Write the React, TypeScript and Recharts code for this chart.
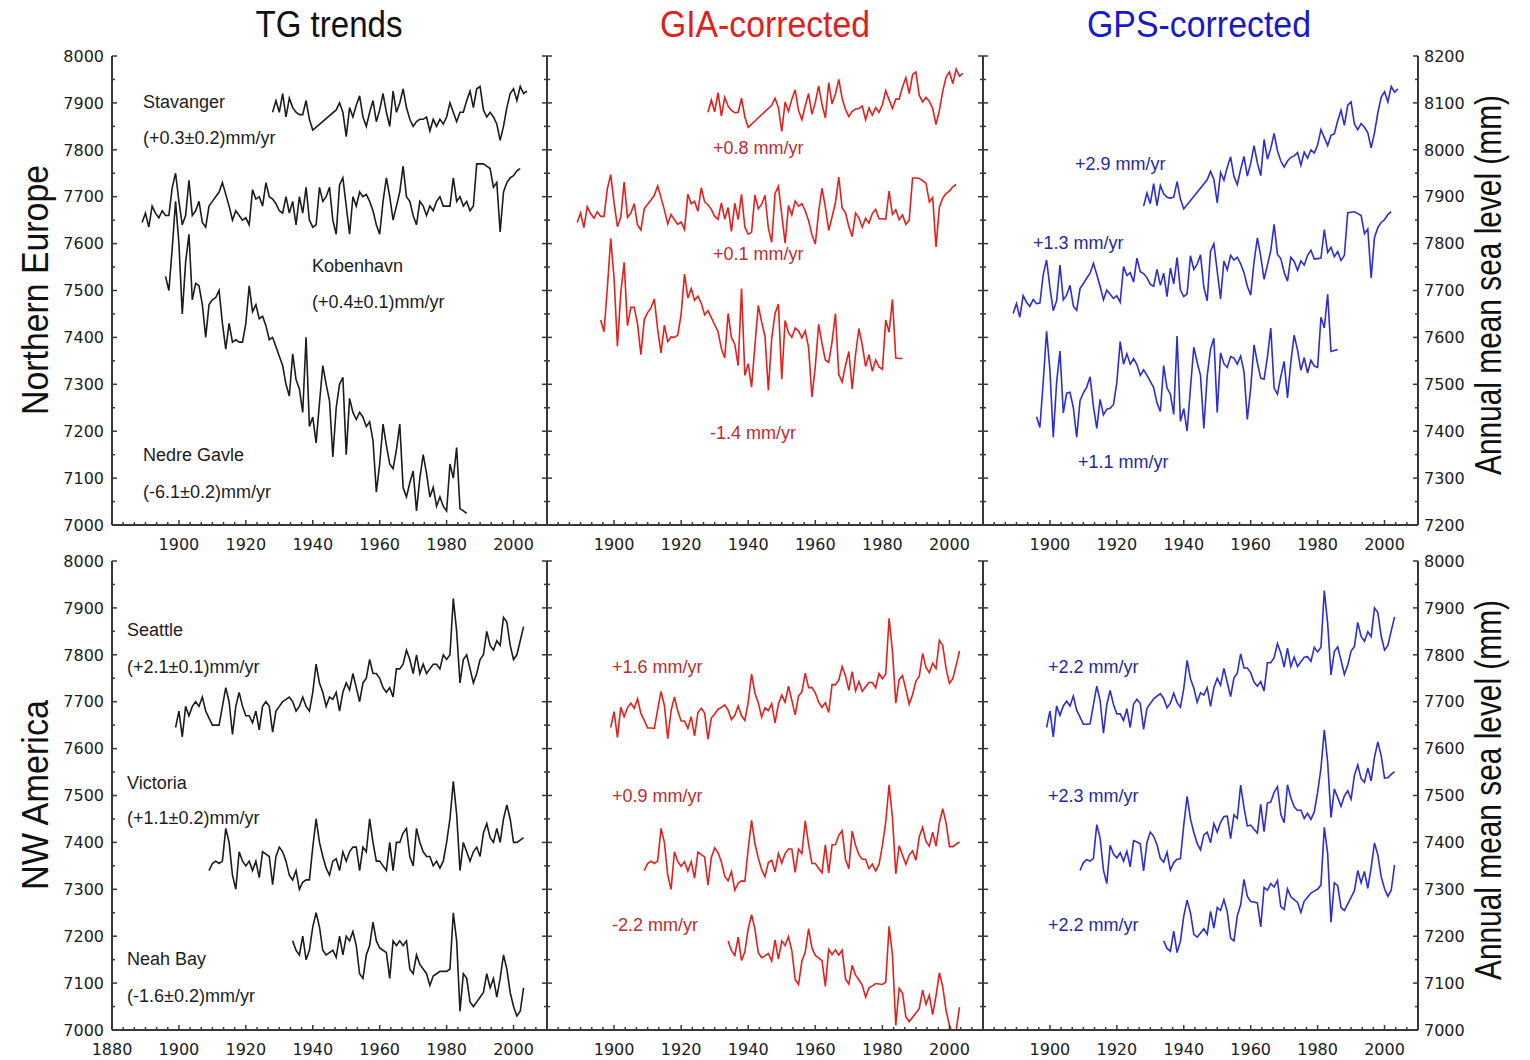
import React from 'react';
import { LineChart, Line, XAxis, YAxis } from 'recharts';

// ---- axis ticks ----
const YEAR_LABELS = [1880, 1900, 1920, 1940, 1960, 1980, 2000];
const LEVEL_TICKS = [7000, 7050, 7100, 7150, 7200, 7250, 7300, 7350, 7400, 7450, 7500, 7550, 7600, 7650, 7700, 7750, 7800, 7850, 7900, 7950, 8000];
const LEVEL_TICKS_HIGH = [7200, 7250, 7300, 7350, 7400, 7450, 7500, 7550, 7600, 7650, 7700, 7750, 7800, 7850, 7900, 7950, 8000, 8050, 8100, 8150, 8200];

// ---- Northern Europe (annual mean sea level, mm) ----
const STAVANGER_START = 1928;
const STAVANGER_TG = [7880, 7905, 7880, 7920, 7870, 7910, 7890, 7880, 7875, 7875, 7905, 7865, 7842, null, null, null, null, null, null, 7885, 7900, 7880, 7828, 7890, 7870, 7895, 7915, 7870, 7850, 7880, 7905, 7860, 7885, 7920, 7880, 7850, 7925, 7880, 7900, 7930, 7890, 7865, 7850, 7860, 7865, 7865, 7870, 7840, 7865, 7850, 7865, 7855, 7870, 7900, 7880, 7860, 7880, 7880, 7905, 7925, 7890, 7930, 7935, 7885, 7870, 7880, 7870, 7855, 7820, 7850, 7890, 7920, 7930, 7905, 7935, 7920, 7925];
const STAVANGER_GIA = [7880, 7906, 7881, 7922, 7872, 7912, 7893, 7884, 7879, 7880, 7910, 7870, 7848, null, null, null, null, null, null, 7895, 7910, 7890, 7839, 7902, 7882, 7908, 7928, 7884, 7864, 7894, 7920, 7876, 7901, 7936, 7897, 7868, 7943, 7898, 7919, 7950, 7910, 7886, 7871, 7882, 7887, 7888, 7893, 7864, 7889, 7874, 7890, 7880, 7896, 7926, 7907, 7888, 7908, 7908, 7934, 7954, 7920, 7960, 7966, 7916, 7902, 7912, 7903, 7888, 7854, 7884, 7925, 7955, 7966, 7941, 7972, 7957, 7963];
const STAVANGER_GPS = [7880, 7908, 7885, 7928, 7881, 7924, 7906, 7899, 7897, 7899, 7932, 7895, 7874, null, null, null, null, null, null, 7936, 7954, 7937, 7887, 7952, 7935, 7963, 7985, 7943, 7926, 7958, 7986, 7944, 7971, 8009, 7972, 7945, 8022, 7980, 8003, 8035, 7998, 7976, 7963, 7976, 7984, 7987, 7994, 7967, 7995, 7982, 8000, 7993, 8010, 8043, 8026, 8009, 8031, 8034, 8062, 8084, 8052, 8095, 8102, 8055, 8043, 8056, 8048, 8036, 8004, 8036, 8079, 8112, 8124, 8102, 8135, 8123, 8130];

const KOBENHAVN_START = 1889;
const KOBENHAVN_TG = [
  7645, 7665, 7635, 7680, 7665, 7655, 7670, 7660, 7660, 7720,
  7750, 7690, 7640, 7660, 7735, 7660, 7670, 7690, 7645, 7635,
  7680, 7690, 7700, 7710, 7730, 7705, 7680, 7650, 7670, 7660,
  7650, 7655, 7640, 7715, 7695, 7700, 7680, 7730, 7700, 7695,
  7685, 7670, 7665, 7700, 7665, 7690, 7640, 7700, 7665, 7720,
  7650, 7635, 7640, 7720, 7690, 7700, 7720, 7650, 7620, 7725,
  7740, 7680, 7620, 7700, 7680, 7710, 7700, 7705, 7690, 7670,
  7640, 7620, 7690, 7740, 7700, 7650, 7680, 7710, 7765, 7700,
  7690, 7660, 7640, 7690, 7680, 7660, 7680, 7670, 7690, 7700,
  7680, 7680, 7680, 7740, 7690, 7700, 7680, 7690, 7670, 7680,
  7770, 7770, 7770, 7765, 7760, 7720, 7730, 7625, 7710, 7730,
  7740, 7745, 7755, 7760,
];
const KOBENHAVN_GIA = [
  7645, 7665, 7634, 7679, 7664, 7654, 7668, 7658, 7658, 7717,
  7747, 7687, 7636, 7656, 7731, 7656, 7665, 7685, 7640, 7629,
  7674, 7684, 7693, 7703, 7723, 7698, 7672, 7642, 7662, 7651,
  7641, 7646, 7630, 7705, 7685, 7690, 7669, 7719, 7689, 7683,
  7673, 7658, 7652, 7687, 7652, 7677, 7626, 7686, 7651, 7705,
  7635, 7620, 7624, 7704, 7674, 7684, 7703, 7633, 7603, 7707,
  7722, 7662, 7601, 7681, 7661, 7691, 7680, 7685, 7670, 7649,
  7619, 7599, 7668, 7718, 7678, 7628, 7657, 7687, 7742, 7676,
  7666, 7636, 7615, 7665, 7655, 7635, 7654, 7644, 7664, 7673,
  7653, 7653, 7652, 7712, 7662, 7672, 7651, 7661, 7641, 7650,
  7740, 7740, 7739, 7734, 7729, 7689, 7698, 7593, 7678, 7697,
  7707, 7712, 7721, 7726,
];
const KOBENHAVN_GPS = [
  7651, 7672, 7643, 7689, 7675, 7666, 7681, 7672, 7673, 7734,
  7765, 7706, 7657, 7678, 7754, 7680, 7690, 7711, 7667, 7658,
  7704, 7715, 7726, 7737, 7758, 7734, 7709, 7680, 7701, 7692,
  7683, 7689, 7675, 7751, 7732, 7738, 7718, 7769, 7740, 7736,
  7727, 7713, 7709, 7745, 7711, 7737, 7687, 7748, 7714, 7770,
  7701, 7687, 7693, 7774, 7745, 7756, 7776, 7707, 7678, 7784,
  7800, 7741, 7682, 7763, 7744, 7775, 7765, 7771, 7757, 7738,
  7709, 7690, 7761, 7812, 7773, 7724, 7754, 7785, 7841, 7777,
  7768, 7739, 7720, 7771, 7762, 7743, 7763, 7754, 7775, 7786,
  7767, 7768, 7769, 7830, 7781, 7792, 7772, 7783, 7764, 7775,
  7866, 7867, 7868, 7864, 7860, 7821, 7831, 7727, 7813, 7834,
  7845, 7851, 7862, 7868,
];

const NEDRE_GAVLE_START = 1896;
const NEDRE_GAVLE_TG = [
  7530, 7500, 7590, 7690, 7600, 7450, 7560, 7620, 7480, 7515,
  7510, 7470, 7400, 7470, 7480, 7485, 7500, 7430, 7375, 7430,
  7390, 7395, 7390, 7390, 7430, 7510, 7455, 7470, 7440, 7445,
  7425, 7395, 7400, 7380, 7360, 7340, 7300, 7275, 7365, 7310,
  7290, 7240, 7400, 7210, 7230, 7175, 7260, 7340, 7300, 7265,
  7145, 7250, 7300, 7315, 7150, 7270, 7240, 7225, 7240, 7230,
  7210, 7220, 7180, 7070, 7130, 7215, 7170, 7130, 7120, 7160,
  7215, 7080, 7060, 7090, 7115, 7030, 7100, 7150, 7110, 7060,
  7080, 7040, 7060, 7040, 7030, 7130, 7100, 7165, 7035, 7030,
  7025,
];
const NEDRE_GAVLE_GIA = [
  7437, 7412, 7506, 7611, 7526, 7381, 7495, 7560, 7425, 7464,
  7464, 7429, 7363, 7438, 7453, 7463, 7482, 7417, 7367, 7426,
  7391, 7401, 7400, 7405, 7450, 7535, 7484, 7504, 7479, 7488,
  7473, 7448, 7457, 7442, 7427, 7412, 7376, 7356, 7451, 7400,
  7385, 7340, 7504, 7319, 7344, 7294, 7383, 7468, 7433, 7402,
  7287, 7397, 7451, 7471, 7311, 7436, 7410, 7400, 7420, 7414,
  7399, 7414, 7378, 7273, 7338, 7428, 7387, 7352, 7347, 7391,
  7451, 7321, 7305, 7340, 7370, 7290, 7364, 7419, 7384, 7338,
  7363, 7328, 7352, 7337, 7332, 7437, 7411, 7481, 7356, 7355,
  7355,
];
const NEDRE_GAVLE_GPS = [
  7431, 7408, 7505, 7613, 7530, 7387, 7504, 7571, 7439, 7481,
  7483, 7450, 7387, 7465, 7482, 7494, 7516, 7453, 7406, 7468,
  7435, 7447, 7449, 7457, 7504, 7591, 7543, 7565, 7543, 7555,
  7542, 7519, 7531, 7519, 7506, 7493, 7460, 7442, 7540, 7492,
  7479, 7436, 7603, 7421, 7448, 7400, 7492, 7579, 7547, 7519,
  7406, 7518, 7575, 7598, 7440, 7567, 7544, 7536, 7559, 7556,
  7543, 7560, 7527, 7425, 7492, 7584, 7546, 7513, 7511, 7558,
  7620, 7492, 7479, 7517, 7549, 7471, 7548, 7605, 7573, 7530,
  7557, 7524, 7551, 7539, 7536, 7643, 7620, 7692, 7570, 7572,
  7574,
];

// ---- NW America (annual mean sea level, mm) ----
const SEATTLE_START = 1899;
const SEATTLE_TG = [
  7645, 7680, 7625, 7690, 7670, 7690, 7700, 7690, 7710, 7680,
  7665, 7650, 7650, 7650, 7690, 7730, 7700, 7630, 7690, 7720,
  7690, 7670, 7670, 7655, 7680, 7640, 7690, 7700, 7690, 7635,
  7680, 7690, 7700, 7705, 7710, 7700, 7680, 7690, 7710, 7690,
  7680, 7720, 7780, 7740, 7720, 7690, 7710, 7705, 7720, 7680,
  7720, 7740, 7725, 7760, 7730, 7700, 7740, 7750, 7790, 7760,
  7760, 7750, 7730, 7720, 7730, 7710, 7770, 7770, 7780, 7810,
  7790, 7760, 7800, 7760, 7780, 7760, 7770, 7780, 7780, 7770,
  7800, 7790, 7800, 7920, 7850, 7740, 7790, 7800, 7770, 7740,
  7760, 7790, 7800, 7850, 7820, 7810, 7830, 7820, 7880, 7870,
  7820, 7790, 7800, 7830, 7860,
];
const SEATTLE_GIA = [
  7645, 7679, 7624, 7688, 7668, 7687, 7697, 7686, 7706, 7675,
  7660, 7644, 7644, 7643, 7683, 7722, 7692, 7621, 7681, 7710,
  7680, 7659, 7659, 7643, 7668, 7627, 7677, 7686, 7676, 7620,
  7665, 7674, 7684, 7688, 7693, 7682, 7662, 7671, 7691, 7670,
  7660, 7699, 7759, 7718, 7698, 7667, 7687, 7681, 7696, 7655,
  7695, 7714, 7699, 7733, 7703, 7672, 7712, 7721, 7761, 7730,
  7730, 7719, 7699, 7688, 7698, 7677, 7737, 7736, 7746, 7775,
  7755, 7724, 7764, 7723, 7743, 7722, 7732, 7741, 7741, 7730,
  7760, 7749, 7759, 7878, 7808, 7697, 7747, 7756, 7726, 7695,
  7715, 7744, 7754, 7803, 7773, 7762, 7782, 7771, 7831, 7820,
  7770, 7739, 7749, 7778, 7808,
];
const SEATTLE_GPS = [
  7645, 7680, 7625, 7691, 7671, 7691, 7701, 7691, 7712, 7682,
  7667, 7652, 7652, 7653, 7693, 7733, 7703, 7633, 7694, 7724,
  7694, 7674, 7674, 7660, 7685, 7645, 7695, 7705, 7696, 7641,
  7686, 7696, 7706, 7712, 7717, 7707, 7687, 7697, 7718, 7698,
  7688, 7728, 7788, 7749, 7729, 7699, 7719, 7714, 7730, 7690,
  7730, 7750, 7735, 7771, 7741, 7711, 7751, 7761, 7802, 7772,
  7772, 7762, 7742, 7733, 7743, 7723, 7783, 7783, 7794, 7824,
  7804, 7774, 7814, 7775, 7795, 7775, 7785, 7795, 7796, 7786,
  7816, 7806, 7816, 7937, 7867, 7757, 7807, 7817, 7788, 7758,
  7778, 7808, 7818, 7869, 7839, 7829, 7849, 7839, 7900, 7890,
  7840, 7810, 7820, 7851, 7881,
];

const VICTORIA_START = 1909;
const VICTORIA_TG = [
  7340, 7355, 7360, 7355, 7360, 7430, 7400, 7330, 7300, 7380,
  7360, 7350, 7360, 7340, 7360, 7325, 7380, 7375, 7370, 7310,
  7370, 7390, 7380, 7360, 7330, 7320, 7340, 7300, 7315, 7320,
  7320, 7390, 7450, 7400, 7370, 7345, 7330, 7360, 7365, 7340,
  7380, 7360, 7380, 7390, 7390, 7340, 7390, 7380, 7450, 7400,
  7360, 7360, 7350, 7340, 7400, 7340, 7400, 7400, 7420, 7430,
  7370, 7350, 7430, 7400, 7380, 7370, 7370, 7350, 7360, 7345,
  7360, 7400, 7450, 7530, 7460, 7340, 7400, 7380, 7360, 7380,
  7390, 7370, 7420, 7440, 7410, 7400, 7430, 7400, 7450, 7480,
  7450, 7400, 7400, 7405, 7410,
];
const VICTORIA_GIA = [
  7340, 7355, 7360, 7355, 7360, 7430, 7400, 7330, 7300, 7380,
  7359, 7349, 7359, 7339, 7359, 7324, 7379, 7374, 7369, 7309,
  7368, 7388, 7378, 7358, 7328, 7318, 7338, 7298, 7313, 7318,
  7317, 7387, 7447, 7397, 7367, 7342, 7327, 7357, 7362, 7337,
  7376, 7356, 7376, 7386, 7386, 7336, 7386, 7376, 7446, 7396,
  7355, 7355, 7345, 7335, 7395, 7335, 7395, 7395, 7415, 7425,
  7364, 7344, 7424, 7394, 7374, 7364, 7364, 7344, 7354, 7339,
  7353, 7393, 7443, 7523, 7453, 7333, 7393, 7373, 7353, 7373,
  7382, 7362, 7412, 7432, 7402, 7392, 7422, 7392, 7442, 7472,
  7441, 7391, 7391, 7396, 7401,
];
const VICTORIA_GPS = [
  7340, 7357, 7363, 7360, 7366, 7438, 7409, 7341, 7312, 7394,
  7375, 7367, 7378, 7360, 7381, 7348, 7404, 7401, 7397, 7339,
  7400, 7422, 7413, 7395, 7366, 7358, 7379, 7341, 7357, 7364,
  7365, 7437, 7498, 7450, 7421, 7398, 7384, 7416, 7422, 7399,
  7440, 7422, 7443, 7455, 7456, 7408, 7459, 7451, 7522, 7474,
  7435, 7437, 7428, 7420, 7481, 7423, 7484, 7486, 7507, 7519,
  7460, 7442, 7523, 7495, 7476, 7468, 7469, 7451, 7462, 7449,
  7465, 7507, 7558, 7640, 7571, 7453, 7514, 7496, 7477, 7499,
  7510, 7492, 7543, 7565, 7536, 7528, 7559, 7531, 7582, 7614,
  7585, 7537, 7538, 7545, 7551,
];

const NEAH_BAY_START = 1934;
const NEAH_BAY_TG = [
  7190, 7170, 7160, 7200, 7150, 7170, 7220, 7250, 7220, 7170,
  7160, 7165, 7170, 7155, 7200, 7160, 7200, 7190, 7210, 7180,
  7120, 7110, 7160, 7180, 7230, 7190, 7175, 7170, 7165, 7110,
  7190, 7180, 7190, 7180, 7190, 7130, 7120, 7160, 7140, 7130,
  7120, 7095, 7115, 7120, 7125, 7125, 7125, 7130, 7250, 7190,
  7040, 7120, 7110, 7060, 7050, 7060, 7070, 7080, 7120, 7090,
  7110, 7070, 7110, 7160, 7130, 7080, 7050, 7030, 7040, 7090,
];
const NEAH_BAY_GIA = [
  7190, 7169, 7159, 7198, 7148, 7167, 7216, 7246, 7215, 7165,
  7154, 7158, 7163, 7147, 7192, 7151, 7190, 7180, 7199, 7169,
  7108, 7097, 7147, 7166, 7216, 7175, 7159, 7154, 7148, 7093,
  7172, 7161, 7171, 7160, 7170, 7109, 7098, 7138, 7117, 7107,
  7096, 7070, 7090, 7094, 7099, 7098, 7097, 7102, 7221, 7161,
  7010, 7089, 7079, 7028, 7018, 7027, 7036, 7046, 7085, 7055,
  7074, 7033, 7073, 7122, 7092, 7041, 7010, 6990, 6999, 7049,
];
const NEAH_BAY_GPS = [
  7190, 7174, 7168, 7211, 7165, 7189, 7243, 7277, 7250, 7204,
  7198, 7207, 7216, 7204, 7253, 7217, 7261, 7255, 7278, 7252,
  7196, 7190, 7244, 7267, 7321, 7285, 7274, 7273, 7271, 7220,
  7304, 7298, 7312, 7305, 7319, 7263, 7257, 7301, 7284, 7278,
  7272, 7251, 7275, 7283, 7292, 7296, 7300, 7309, 7432, 7376,
  7230, 7314, 7308, 7261, 7255, 7269, 7283, 7297, 7340, 7314,
  7338, 7302, 7346, 7399, 7373, 7327, 7301, 7285, 7298, 7352,
];

// ---- look ----
const FRAME = '#383838';
const INK = '#1c1c1c';
const RED = '#e3201d';
const RED_TEXT = '#c22a2c';
const BLUE = '#2d2dd6';
const BLUE_TEXT = '#2626a8';
const TICK_FONT = '"DejaVu Sans", Verdana, sans-serif';
const NOTE_FONT = '"Liberation Sans", Arial, sans-serif';

const PLOT_H = 469;
const AXIS_W = 60;
const PAD_TOP = 10;
const AXIS_H = 40;

// minor year ticks every 20/6 years between the labelled ones
const YEAR_TICKS = YEAR_LABELS.flatMap((y) =>
  y === 2000 ? [2000, 2000 + 10 / 3, 2000 + 20 / 3, 2010] : [0, 1, 2, 3, 4, 5].map((k) => y + (k * 10) / 3)
);

const toPoints = (start: number, values: (number | null)[]) =>
  values.map((v, i) => ({ year: start + i, level: v }));

const isWhole = (v: number) => Math.abs(v - Math.round(v)) < 1e-6;

const makeXTick = (side: 'top' | 'bottom', labels: number[]) => (props: any) => {
  const { x, y, payload } = props;
  const v = payload.value as number;
  const major = isWhole(v) && Math.round(v) % 20 === 0;
  const len = major ? 5 : 3;
  const dir = side === 'bottom' ? -1 : 1;
  const showLabel = side === 'bottom' && major && labels.includes(Math.round(v));
  return (
    <g>
      <line x1={x} y1={y} x2={x} y2={y + dir * len} stroke={FRAME} strokeWidth={1.5} />
      {showLabel && (
        <text x={x} y={y + 19} dy="0.36em" textAnchor="middle" fontFamily={TICK_FONT} fontSize={16} fill={INK}>
          {Math.round(v)}
        </text>
      )}
    </g>
  );
};

const makeYTick = (side: 'left' | 'right', labelled: boolean) => (props: any) => {
  const { x, y, payload } = props;
  const v = payload.value as number;
  const major = v % 100 === 0;
  const len = major ? 5 : 3;
  const dir = side === 'left' ? 1 : -1;
  return (
    <g>
      <line x1={x} y1={y} x2={x + dir * len} y2={y} stroke={FRAME} strokeWidth={1.5} />
      {labelled && major && (
        <text
          x={side === 'left' ? x - 8 : x + 6}
          y={y}
          dy="0.36em"
          textAnchor={side === 'left' ? 'end' : 'start'}
          fontFamily={TICK_FONT}
          fontSize={16}
          fill={INK}
        >
          {v}
        </text>
      )}
    </g>
  );
};

type PanelSeries = { start: number; values: (number | null)[] };

type PanelProps = {
  left: number;
  top: number;
  width: number;
  series: PanelSeries[];
  color: string;
  domain: [number, number];
  ticks: number[];
  leftLabels?: boolean;
  rightLabels?: boolean;
  yearLabels: number[];
};

function Panel({ left, top, width, series, color, domain, ticks, leftLabels, rightLabels, yearLabels }: PanelProps) {
  const axisLine = { stroke: FRAME, strokeWidth: 2 };
  return (
    <div style={{ position: 'absolute', left: left - AXIS_W, top: top - PAD_TOP }}>
      <LineChart
        width={width + AXIS_W * 2}
        height={PLOT_H + PAD_TOP + AXIS_H}
        margin={{ top: PAD_TOP, right: 0, bottom: 0, left: 0 }}
      >
        <XAxis
          xAxisId="b"
          type="number"
          dataKey="year"
          domain={[1880, 2010]}
          allowDataOverflow
          ticks={YEAR_TICKS}
          interval={0}
          height={AXIS_H}
          tickSize={0}
          tickMargin={0}
          tickLine={false}
          axisLine={axisLine}
          tick={makeXTick('bottom', yearLabels)}
        />
        <XAxis
          xAxisId="t"
          orientation="top"
          type="number"
          dataKey="year"
          domain={[1880, 2010]}
          allowDataOverflow
          ticks={YEAR_TICKS}
          interval={0}
          height={0}
          tickSize={0}
          tickMargin={0}
          tickLine={false}
          axisLine={axisLine}
          tick={makeXTick('top', [])}
        />
        <YAxis
          yAxisId="l"
          type="number"
          domain={domain}
          allowDataOverflow
          ticks={ticks}
          interval={0}
          width={AXIS_W}
          tickSize={0}
          tickMargin={0}
          tickLine={false}
          axisLine={axisLine}
          tick={makeYTick('left', !!leftLabels)}
        />
        <YAxis
          yAxisId="r"
          orientation="right"
          type="number"
          domain={domain}
          allowDataOverflow
          ticks={ticks}
          interval={0}
          width={AXIS_W}
          tickSize={0}
          tickMargin={0}
          tickLine={false}
          axisLine={axisLine}
          tick={makeYTick('right', !!rightLabels)}
        />
        {series.map((s, i) => (
          <Line
            key={i}
            xAxisId="b"
            yAxisId="l"
            data={toPoints(s.start, s.values)}
            dataKey="level"
            type="linear"
            stroke={color}
            strokeWidth={1.6}
            dot={false}
            activeDot={false}
            connectNulls
            isAnimationActive={false}
          />
        ))}
      </LineChart>
    </div>
  );
}

const NOTES: { text: string; x: number; y: number; color: string }[] = [
  { text: 'Stavanger', x: 143, y: 102, color: INK },
  { text: '(+0.3±0.2)mm/yr', x: 143, y: 138, color: INK },
  { text: 'Kobenhavn', x: 312, y: 266, color: INK },
  { text: '(+0.4±0.1)mm/yr', x: 312, y: 302, color: INK },
  { text: 'Nedre Gavle', x: 143, y: 455, color: INK },
  { text: '(-6.1±0.2)mm/yr', x: 143, y: 492, color: INK },
  { text: '+0.8 mm/yr', x: 713, y: 148, color: RED_TEXT },
  { text: '+0.1 mm/yr', x: 713, y: 254, color: RED_TEXT },
  { text: '-1.4 mm/yr', x: 710, y: 433, color: RED_TEXT },
  { text: '+2.9 mm/yr', x: 1075, y: 164, color: BLUE_TEXT },
  { text: '+1.3 mm/yr', x: 1033, y: 243, color: BLUE_TEXT },
  { text: '+1.1 mm/yr', x: 1078, y: 462, color: BLUE_TEXT },
  { text: 'Seattle', x: 127, y: 630, color: INK },
  { text: '(+2.1±0.1)mm/yr', x: 127, y: 667, color: INK },
  { text: 'Victoria', x: 127, y: 783, color: INK },
  { text: '(+1.1±0.2)mm/yr', x: 127, y: 818, color: INK },
  { text: 'Neah Bay', x: 127, y: 959, color: INK },
  { text: '(-1.6±0.2)mm/yr', x: 127, y: 996, color: INK },
  { text: '+1.6 mm/yr', x: 612, y: 667, color: RED_TEXT },
  { text: '+0.9 mm/yr', x: 612, y: 796, color: RED_TEXT },
  { text: '-2.2 mm/yr', x: 612, y: 925, color: RED_TEXT },
  { text: '+2.2 mm/yr', x: 1048, y: 667, color: BLUE_TEXT },
  { text: '+2.3 mm/yr', x: 1048, y: 796, color: BLUE_TEXT },
  { text: '+2.2 mm/yr', x: 1048, y: 925, color: BLUE_TEXT },
];

// big condensed labels: text, centre, length on the page
const HEADINGS: { text: string; x: number; y: number; length: number; color: string; rotate?: boolean }[] = [
  { text: 'TG trends', x: 329, y: 24, length: 147, color: '#111' },
  { text: 'GIA-corrected', x: 765, y: 24, length: 210, color: '#e0201c' },
  { text: 'GPS-corrected', x: 1199, y: 24, length: 224, color: '#1818cc' },
  { text: 'Northern Europe', x: 35, y: 290, length: 250, color: '#111', rotate: true },
  { text: 'NW America', x: 35, y: 795, length: 190, color: '#111', rotate: true },
  { text: 'Annual mean sea level (mm)', x: 1488, y: 285, length: 380, color: '#111', rotate: true },
  { text: 'Annual mean sea level (mm)', x: 1488, y: 790, length: 380, color: '#111', rotate: true },
];

const COLS = [
  { left: 112, width: 435 },
  { left: 547, width: 436 },
  { left: 983, width: 435 },
];
const ROWS = [56, 561];
const TOP_YEARS = YEAR_LABELS.filter((y) => y !== 1880);

export default function App() {
  const europe = {
    tg: [
      { start: STAVANGER_START, values: STAVANGER_TG },
      { start: KOBENHAVN_START, values: KOBENHAVN_TG },
      { start: NEDRE_GAVLE_START, values: NEDRE_GAVLE_TG },
    ],
    gia: [
      { start: STAVANGER_START, values: STAVANGER_GIA },
      { start: KOBENHAVN_START, values: KOBENHAVN_GIA },
      { start: NEDRE_GAVLE_START, values: NEDRE_GAVLE_GIA },
    ],
    gps: [
      { start: STAVANGER_START, values: STAVANGER_GPS },
      { start: KOBENHAVN_START, values: KOBENHAVN_GPS },
      { start: NEDRE_GAVLE_START, values: NEDRE_GAVLE_GPS },
    ],
  };
  const america = {
    tg: [
      { start: SEATTLE_START, values: SEATTLE_TG },
      { start: VICTORIA_START, values: VICTORIA_TG },
      { start: NEAH_BAY_START, values: NEAH_BAY_TG },
    ],
    gia: [
      { start: SEATTLE_START, values: SEATTLE_GIA },
      { start: VICTORIA_START, values: VICTORIA_GIA },
      { start: NEAH_BAY_START, values: NEAH_BAY_GIA },
    ],
    gps: [
      { start: SEATTLE_START, values: SEATTLE_GPS },
      { start: VICTORIA_START, values: VICTORIA_GPS },
      { start: NEAH_BAY_START, values: NEAH_BAY_GPS },
    ],
  };

  return (
    <div style={{ position: 'absolute', left: 0, top: 0, width: 1530, height: 1060, background: '#fff', overflow: 'hidden' }}>
      {/* Northern Europe */}
      <Panel left={COLS[0].left} width={COLS[0].width} top={ROWS[0]} series={europe.tg} color={INK}
        domain={[7000, 8000]} ticks={LEVEL_TICKS} leftLabels yearLabels={TOP_YEARS} />
      <Panel left={COLS[1].left} width={COLS[1].width} top={ROWS[0]} series={europe.gia} color={RED}
        domain={[7000, 8000]} ticks={LEVEL_TICKS} yearLabels={TOP_YEARS} />
      <Panel left={COLS[2].left} width={COLS[2].width} top={ROWS[0]} series={europe.gps} color={BLUE}
        domain={[7200, 8200]} ticks={LEVEL_TICKS_HIGH} rightLabels yearLabels={TOP_YEARS} />
      {/* NW America */}
      <Panel left={COLS[0].left} width={COLS[0].width} top={ROWS[1]} series={america.tg} color={INK}
        domain={[7000, 8000]} ticks={LEVEL_TICKS} leftLabels yearLabels={YEAR_LABELS} />
      <Panel left={COLS[1].left} width={COLS[1].width} top={ROWS[1]} series={america.gia} color={RED}
        domain={[7000, 8000]} ticks={LEVEL_TICKS} yearLabels={TOP_YEARS} />
      <Panel left={COLS[2].left} width={COLS[2].width} top={ROWS[1]} series={america.gps} color={BLUE}
        domain={[7000, 8000]} ticks={LEVEL_TICKS} rightLabels yearLabels={TOP_YEARS} />

      <svg width={1530} height={1060} style={{ position: 'absolute', left: 0, top: 0, pointerEvents: 'none' }}>
        <g fontFamily={NOTE_FONT} fontSize={37} textAnchor="middle">
          {HEADINGS.map((h, i) => (
            <text
              key={i}
              transform={`translate(${h.x},${h.y})${h.rotate ? ' rotate(-90)' : ''}`}
              dy="0.36em"
              fill={h.color}
              textLength={h.length}
              lengthAdjust="spacingAndGlyphs"
            >
              {h.text}
            </text>
          ))}
        </g>
        <g fontFamily={NOTE_FONT} fontSize={18}>
          {NOTES.map((n, i) => (
            <text key={i} x={n.x} y={n.y} dy="0.36em" fill={n.color}>
              {n.text}
            </text>
          ))}
        </g>
      </svg>
    </div>
  );
}
